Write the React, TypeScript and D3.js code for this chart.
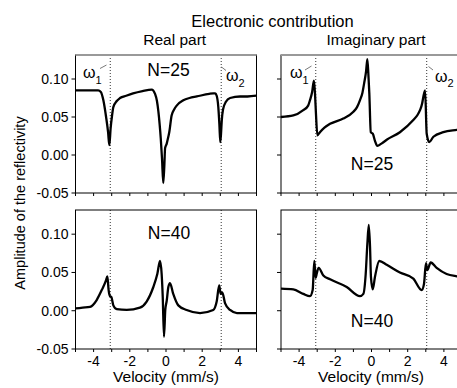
import React from "react";
import * as d3 from "d3";

// ---------- data ----------
const realN25V = [-5, -4.5, -4.0, -3.75, -3.6, -3.46, -3.31, -3.2, -3.13, -3.06, -2.98, -2.91, -2.72, -2.54, -2.2, -1.82, -1.3, -0.79, -0.6, -0.5, -0.42, -0.35, -0.29, -0.22, -0.15, -0.09, -0.05, 0.04, 0.1, 0.18, 0.31, 0.45, 0.59, 0.96, 1.3, 1.7, 2.39, 2.61, 2.72, 2.8, 2.89, 2.95, 3.0, 3.04, 3.08, 3.15, 3.31, 3.54, 4.09, 4.5, 5.0];
const realN25A = [0.085, 0.085, 0.085, 0.085, 0.083, 0.072, 0.05, 0.03, 0.013, 0.035, 0.052, 0.063, 0.071, 0.075, 0.078, 0.081, 0.084, 0.086, 0.08, 0.071, 0.057, 0.04, 0.022, -0.005, -0.037, -0.013, 0.009, 0.015, 0.021, 0.03, 0.052, 0.06, 0.065, 0.072, 0.075, 0.077, 0.0805, 0.081, 0.081, 0.078, 0.063, 0.04, 0.017, 0.028, 0.045, 0.06, 0.07, 0.075, 0.077, 0.077, 0.078];

const imagN25V = [-5, -4.32, -3.77, -3.5, -3.4, -3.28, -3.18, -3.12, -3.07, -2.99, -2.85, -2.6, -2.29, -1.56, -1.0, -0.8, -0.64, -0.5, -0.41, -0.3, -0.23, -0.17, -0.12, -0.04, 0.07, 0.2, 0.32, 0.55, 0.84, 1.57, 2.31, 2.55, 2.68, 2.8, 2.86, 2.96, 3.05, 3.19, 3.42, 3.97, 4.72, 5.0];
const imagN25A = [0.05, 0.052, 0.059, 0.065, 0.072, 0.083, 0.098, 0.08, 0.055, 0.026, 0.03, 0.036, 0.041, 0.048, 0.057, 0.063, 0.072, 0.082, 0.094, 0.11, 0.126, 0.105, 0.081, 0.03, 0.028, 0.018, 0.012, 0.015, 0.02, 0.03, 0.046, 0.053, 0.059, 0.068, 0.076, 0.085, 0.028, 0.017, 0.024, 0.03, 0.033, 0.034];

const realN40V = [-5, -4.6, -4.2, -3.83, -3.55, -3.31, -3.24, -3.17, -3.09, -3.02, -2.91, -2.72, -2.17, -1.44, -1.07, -0.7, -0.48, -0.33, -0.24, -0.18, -0.11, -0.04, 0.04, 0.13, 0.22, 0.4, 0.68, 1.14, 1.88, 2.61, 2.8, 2.94, 3.02, 3.11, 3.26, 3.54, 3.92, 4.5, 5.0];
const realN40A = [0.003, 0.004, 0.005, 0.014, 0.027, 0.04, 0.045, 0.027, 0.019, 0.018, 0.007, 0.002, 0.001, 0.004, 0.012, 0.031, 0.048, 0.065, 0.048, 0.018, -0.034, 0.001, 0.013, 0.031, 0.036, 0.022, 0.007, 0.001, -0.003, 0.001, 0.012, 0.033, 0.022, 0.024, 0.01, 0.001, -0.003, -0.003, -0.003];

const imagN40V = [-5, -4.32, -3.77, -3.4, -3.25, -3.16, -3.08, -3.03, -2.92, -2.66, -2.29, -1.37, -0.64, -0.45, -0.32, -0.23, -0.15, -0.08, -0.03, 0.07, 0.19, 0.43, 0.84, 1.57, 2.31, 2.77, 2.9, 3.01, 3.08, 3.27, 3.6, 4.15, 4.72, 5.0];
const imagN40A = [0.029, 0.028, 0.022, 0.019, 0.027, 0.065, 0.043, 0.048, 0.056, 0.046, 0.041, 0.031, 0.019, 0.022, 0.048, 0.087, 0.112, 0.083, 0.044, 0.028, 0.044, 0.065, 0.06, 0.05, 0.042, 0.027, 0.035, 0.062, 0.053, 0.063, 0.056, 0.048, 0.045, 0.044];

const yTicks = [0.1, 0.05, 0.0, -0.05];
const yTickLabels = ["0.10", "0.05", "0.00", "-0.05"];
const xMinorTicks = [-5, -4, -3, -2, -1, 0, 1, 2, 3, 4, 5];
const xMajorTicks = [-4, -2, 0, 2, 4];
const resonances = [-3.08, 3.05];

const FONT = "'Liberation Sans', Arial, Helvetica, sans-serif";

type PanelProps = {
  id: string;
  x0: number; x1: number; y0: number; y1: number;
  v: number[]; a: number[];
  yLabels: boolean; xLabels: boolean; grayTop: boolean;
  label: string; lx: number; ly: number;
};

function Panel(p: PanelProps) {
  const x = d3.scaleLinear().domain([-5, 5]).range([p.x0, p.x1]);
  const y = d3.scaleLinear().domain([-0.05, 0.1316]).range([p.y1, p.y0]);
  const pts: [number, number][] = p.v.map((d, i) => [d, p.a[i]]);
  const line = d3.line<[number, number]>().x(d => x(d[0])).y(d => y(d[1])).curve(d3.curveMonotoneX);
  return (
    <g>
      <defs>
        <clipPath id={p.id}>
          <rect x={p.x0} y={p.y0} width={p.x1 - p.x0} height={p.y1 - p.y0} />
        </clipPath>
      </defs>
      {resonances.map((r, i) => (
        <line key={i} x1={x(r)} x2={x(r)} y1={p.y0} y2={p.y1} stroke="#333" strokeWidth={1} strokeDasharray="1,2" />
      ))}
      <path d={line(pts) || ""} fill="none" stroke="#000" strokeWidth={2.3} strokeLinejoin="round" clipPath={`url(#${p.id})`} />
      <rect x={p.x0} y={p.y0} width={p.x1 - p.x0} height={p.y1 - p.y0} fill="none" stroke="#000" strokeWidth={1} />
      {p.grayTop && <line x1={p.x0} x2={p.x1} y1={p.y0} y2={p.y0} stroke="#999" strokeWidth={2} />}
      {yTicks.map((t, i) => (
        <g key={i}>
          <line x1={p.x0 - 4} x2={p.x0} y1={y(t)} y2={y(t)} stroke="#000" strokeWidth={1} />
          {p.yLabels && (
            <text x={p.x0 - 7} y={y(t)} dy="0.35em" textAnchor="end" fontSize={14} fontFamily={FONT} fill="#000">
              {yTickLabels[i]}
            </text>
          )}
        </g>
      ))}
      {xMinorTicks.map((t, i) => (
        <line key={i} x1={x(t)} x2={x(t)} y1={p.y1} y2={p.y1 + 3} stroke="#000" strokeWidth={1} />
      ))}
      {p.xLabels && xMajorTicks.map((t, i) => (
        <text key={i} x={x(t)} y={p.y1 + 17} textAnchor="middle" fontSize={14} fontFamily={FONT} fill="#000">
          {t}
        </text>
      ))}
      <text x={p.lx} y={p.ly} textAnchor="middle" fontSize={17.5} fontFamily={FONT} fill="#000">{p.label}</text>
    </g>
  );
}

function Omega({ x, y, sub, lx1, ly1, lx2, ly2 }: { x: number; y: number; sub: string; lx1: number; ly1: number; lx2: number; ly2: number }) {
  return (
    <g>
      <line x1={lx1} y1={ly1} x2={lx2} y2={ly2} stroke="#555" strokeWidth={0.8} />
      <text x={x} y={y} fontSize={16} fontFamily={FONT} fill="#000">ω</text>
      <text x={x + 12.5} y={y + 5.5} fontSize={11} fontFamily={FONT} fill="#000">{sub}</text>
    </g>
  );
}

export default function App() {
  const L = { x0: 75.5, x1: 256.5 };
  const R = { x0: 281, x1: 462 };
  const T = { y0: 55, y1: 193 };
  const B = { y0: 210, y1: 349 };
  return (
    <svg width={457} height={388} style={{ position: "absolute", left: 0, top: 0, background: "#fff" }}>
      <rect x={0} y={0} width={457} height={388} fill="#fff" />
      <text x={272.5} y={26.5} textAnchor="middle" fontSize={16.5} fontFamily={FONT}>Electronic contribution</text>
      <text x={174.7} y={45} textAnchor="middle" fontSize={15.5} fontFamily={FONT}>Real part</text>
      <text x={376} y={45} textAnchor="middle" fontSize={15.5} fontFamily={FONT}>Imaginary part</text>
      <text transform="translate(25,203) rotate(-90)" textAnchor="middle" fontSize={14.5} fontFamily={FONT}>Amplitude of the reflectivity</text>

      <Panel id="c1" {...L} {...T} v={realN25V} a={realN25A} yLabels={true} xLabels={false} grayTop={true} label="N=25" lx={168.5} ly={76} />
      <Panel id="c2" {...R} {...T} v={imagN25V} a={imagN25A} yLabels={false} xLabels={false} grayTop={true} label="N=25" lx={372} ly={170} />
      <Panel id="c3" {...L} {...B} v={realN40V} a={realN40A} yLabels={true} xLabels={true} grayTop={false} label="N=40" lx={169} ly={239} />
      <Panel id="c4" {...R} {...B} v={imagN40V} a={imagN40A} yLabels={false} xLabels={true} grayTop={false} label="N=40" lx={372} ly={327} />

      <Omega x={83} y={78} sub="1" lx1={100} ly1={68.5} lx2={106.5} ly2={65} />
      <Omega x={226} y={81} sub="2" lx1={221.5} ly1={67} lx2={226} ly2={70.5} />
      <Omega x={290} y={78} sub="1" lx1={305} ly1={70} lx2={311.5} ly2={66} />
      <Omega x={435} y={81.5} sub="2" lx1={428.5} ly1={66.5} lx2={433} ly2={70} />

      <text x={166} y={382} textAnchor="middle" fontSize={15.5} fontFamily={FONT}>Velocity (mm/s)</text>
      <text x={371} y={382} textAnchor="middle" fontSize={15.5} fontFamily={FONT}>Velocity (mm/s)</text>
    </svg>
  );
}
